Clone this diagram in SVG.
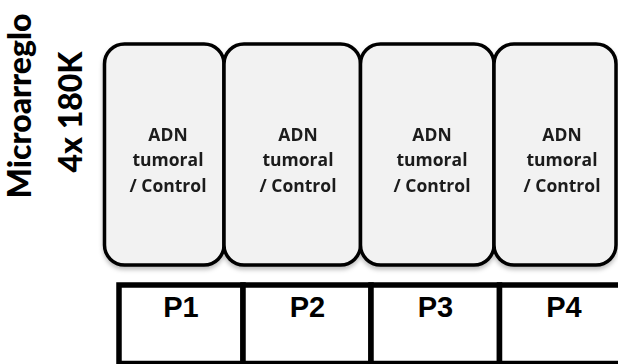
<svg xmlns="http://www.w3.org/2000/svg" width="618" height="364" viewBox="0 0 618 364">
<style>
.box{fill:#f2f2f2;stroke:#000;stroke-width:3.5}
.lbl{font-family:"Open Sans","Noto Sans","Liberation Sans",sans-serif;font-weight:bold;font-size:17.5px;fill:#1a1a1a;text-anchor:middle}
.side{font-family:Lato,"Open Sans","Liberation Sans",sans-serif;font-weight:900;font-size:32px;fill:#000;text-anchor:middle}
.cell{fill:#fff;stroke:#000;stroke-width:5.5}
.p{font-family:"Liberation Sans",Arial,sans-serif;font-weight:bold;font-size:29px;fill:#000;text-anchor:middle}
</style>
<defs>
<filter id="sh" x="-10%" y="-10%" width="120%" height="120%">
<feDropShadow dx="0" dy="3" stdDeviation="2" flood-color="#000" flood-opacity="0.25"/>
</filter>
</defs>
<g id="side-label">
<text class="side" transform="translate(31,106) rotate(-90)">Microarreglo</text>
<text class="side" transform="translate(82,112) rotate(-90)">4x 180K</text>
</g>
<g id="boxes" filter="url(#sh)">
<g id="box1">
<rect class="box" x="104.5" y="44" width="119.5" height="221" rx="20"/>
<text class="lbl" x="168" y="140.5">ADN</text>
<text class="lbl" x="168" y="166">tumoral</text>
<text class="lbl" x="168" y="191.5">/ Control</text>
</g>
<g id="box2">
<rect class="box" x="224" y="44" width="136.5" height="221" rx="20"/>
<text class="lbl" x="298" y="140.5">ADN</text>
<text class="lbl" x="298" y="166">tumoral</text>
<text class="lbl" x="298" y="191.5">/ Control</text>
</g>
<g id="box3">
<rect class="box" x="360.5" y="44" width="133.5" height="221" rx="20"/>
<text class="lbl" x="432" y="140.5">ADN</text>
<text class="lbl" x="432" y="166">tumoral</text>
<text class="lbl" x="432" y="191.5">/ Control</text>
</g>
<g id="box4">
<rect class="box" x="494" y="44" width="122" height="221" rx="20"/>
<text class="lbl" x="562" y="140.5">ADN</text>
<text class="lbl" x="562" y="166">tumoral</text>
<text class="lbl" x="562" y="191.5">/ Control</text>
</g>
</g>
<g id="table">
<g id="P1"><rect class="cell" x="119" y="285" width="124" height="78.5"/><text class="p" x="181" y="316.5">P1</text></g>
<g id="P2"><rect class="cell" x="243" y="285" width="128" height="78.5"/><text class="p" x="307.5" y="316.5">P2</text></g>
<g id="P3"><rect class="cell" x="371" y="285" width="128.5" height="78.5"/><text class="p" x="435.5" y="316.5">P3</text></g>
<g id="P4"><rect class="cell" x="499.5" y="285" width="128" height="78.5"/><text class="p" x="564" y="316.5">P4</text></g>
</g>
<g id="connectors"/>
</svg>
